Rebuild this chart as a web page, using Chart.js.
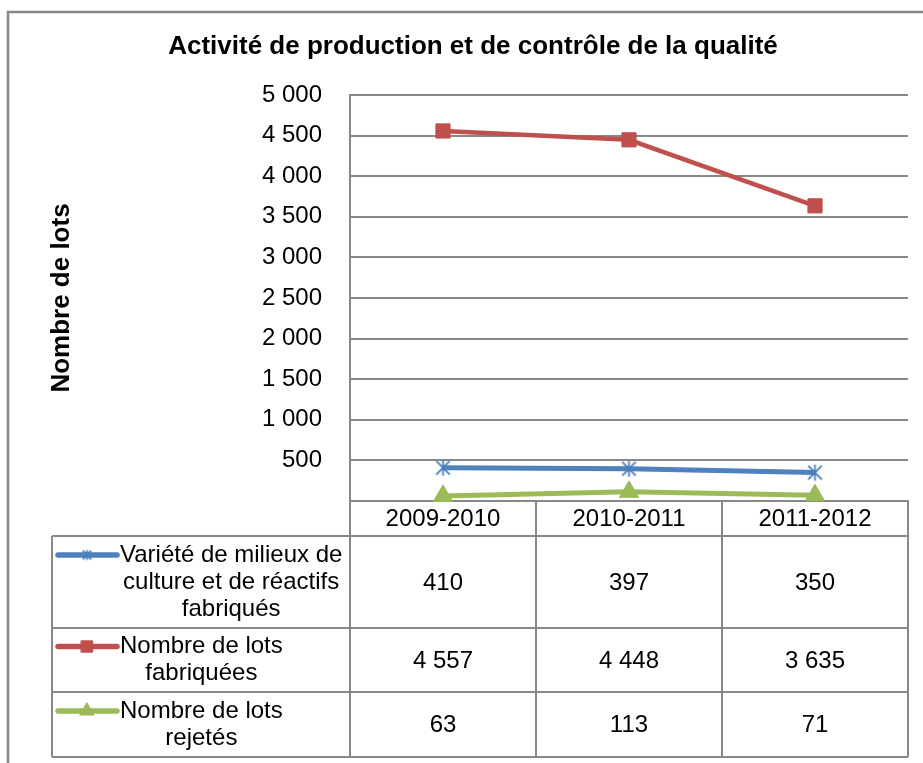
<!DOCTYPE html>
<html>
<head>
    <meta charset='utf-8'>
    <title>Activité de production et de contrôle de la qualité</title>
    <script src="https://cdn.jsdelivr.net/npm/chart.js@4.4.0/dist/chart.umd.min.js"></script>
    <style>
        body { margin: 0; background: #fff; }
    </style>
</head>
<body>
    <canvas id="chart" width="923" height="763"></canvas>
    <script>
        var categories = ['2009-2010', '2010-2011', '2011-2012'];
        var varietes = [410, 397, 350];
        var lotsFabriques = [4557, 4448, 3635];
        var lotsRejetes = [63, 113, 71];
        var seriesNames = [
            ['Variété de milieux de', 'culture et de réactifs', 'fabriqués'],
            ['Nombre de lots', 'fabriquées'],
            ['Nombre de lots', 'rejetés']
        ];
        var chartTitle = 'Activité de production et de contrôle de la qualité';
        var yTitle = 'Nombre de lots';

        var FONT = "'Liberation Sans', Arial, sans-serif";
        var GRID = '#888888';

        // french thousands separator
        function fmt(v) {
            return String(v).replace(/\B(?=(\d{3})+(?!\d))/g, ' ');
        }

        // excel-like asterisk marker (X + vertical bar)
        function asterisk(color, size) {
            var c = document.createElement('canvas');
            c.width = size; c.height = size;
            var g = c.getContext('2d');
            g.strokeStyle = color;
            g.lineWidth = 1.8;
            var m = size / 2, r = size / 2 - 1.5;
            g.beginPath();
            g.moveTo(m - r * 0.85, m - r * 0.85); g.lineTo(m + r * 0.85, m + r * 0.85);
            g.moveTo(m + r * 0.85, m - r * 0.85); g.lineTo(m - r * 0.85, m + r * 0.85);
            g.moveTo(m, m - r); g.lineTo(m, m + r);
            g.stroke();
            return c;
        }
        var starBig = asterisk('#4a7ebb', 19);
        var starSmall = asterisk('#4a7ebb', 13);

        // table rows: top of header, then bottom of each row
        var tableLeft = 52;
        var rowEdges = [501, 536, 628, 692, 757];

        var tablePlugin = {
            id: 'dataTable',
            afterDraw: function (chart) {
                var ctx = chart.ctx;
                var xs = chart.scales.x;
                var area = chart.chartArea;
                var step = (area.right - area.left) / categories.length;
                ctx.save();

                // outer frame
                ctx.strokeStyle = '#878787';
                ctx.lineWidth = 2.5;
                ctx.strokeRect(8, 12, 960, 800);

                // title
                ctx.fillStyle = '#000';
                ctx.font = 'bold 26px ' + FONT;
                ctx.textAlign = 'center';
                ctx.textBaseline = 'middle';
                ctx.fillText(chartTitle, 473, 47);

                // grid of the table
                ctx.strokeStyle = GRID;
                ctx.lineWidth = 2;
                ctx.beginPath();
                for (var i = 0; i <= categories.length; i++) {
                    var bx = area.left + i * step;
                    ctx.moveTo(bx, rowEdges[0]);
                    ctx.lineTo(bx, rowEdges[rowEdges.length - 1]);
                }
                for (var r = 1; r < rowEdges.length; r++) {
                    ctx.moveTo(tableLeft, rowEdges[r]);
                    ctx.lineTo(area.right, rowEdges[r]);
                }
                ctx.moveTo(tableLeft, rowEdges[1]);
                ctx.lineTo(tableLeft, rowEdges[rowEdges.length - 1]);
                ctx.stroke();

                // header
                ctx.font = '24px ' + FONT;
                ctx.fillStyle = '#000';
                categories.forEach(function (c, i) {
                    ctx.fillText(c, xs.getPixelForValue(i), (rowEdges[0] + rowEdges[1]) / 2 + 1);
                });

                // rows
                chart.data.datasets.forEach(function (ds, k) {
                    var top = rowEdges[k + 1], bot = rowEdges[k + 2];
                    var cy = (top + bot) / 2;
                    var lines = seriesNames[k];
                    var lh = 27;
                    var y0 = cy - (lines.length - 1) * lh / 2;
                    ctx.font = '24px ' + FONT;
                    var w = 0;
                    lines.forEach(function (t) { w = Math.max(w, ctx.measureText(t).width); });
                    ctx.fillStyle = '#000';
                    ctx.textAlign = 'center';
                    lines.forEach(function (t, j) {
                        ctx.fillText(t, 120 + w / 2, y0 + j * lh);
                    });
                    ds.data.forEach(function (v, i) {
                        ctx.fillText(fmt(v), xs.getPixelForValue(i), cy + 1);
                    });

                    // legend key
                    ctx.strokeStyle = ds.borderColor;
                    ctx.lineWidth = 5.5;
                    ctx.lineCap = 'round';
                    ctx.beginPath();
                    ctx.moveTo(58, y0);
                    ctx.lineTo(117, y0);
                    ctx.stroke();
                    ctx.fillStyle = ds.pointBackgroundColor;
                    ctx.strokeStyle = ds.pointBorderColor;
                    ctx.lineWidth = 1;
                    var ps = k === 0 ? starSmall : ds.pointStyle;
                    Chart.helpers.drawPoint(ctx, { pointStyle: ps, radius: k === 0 ? 6 : 8, rotation: 0, borderWidth: 1 }, 87, y0);
                });
                ctx.restore();
            }
        };

        var ctx = document.getElementById('chart').getContext('2d');
        var chart = new Chart(ctx, {
            type: 'line',
            data: {
                labels: categories,
                datasets: [
                    {
                        label: seriesNames[0].join(' '),
                        data: varietes,
                        borderColor: '#4f81bd',
                        borderWidth: 5,
                        pointStyle: starBig,
                        pointRadius: 9,
                        pointBackgroundColor: '#4a7ebb',
                        pointBorderColor: '#4a7ebb',
                        tension: 0
                    },
                    {
                        label: seriesNames[1].join(' '),
                        data: lotsFabriques,
                        borderColor: '#c0504d',
                        borderWidth: 4.5,
                        pointStyle: 'rect',
                        pointRadius: 10,
                        pointBackgroundColor: '#c0504d',
                        pointBorderColor: '#be4b48',
                        pointBorderWidth: 1,
                        tension: 0
                    },
                    {
                        label: seriesNames[2].join(' '),
                        data: lotsRejetes,
                        borderColor: '#9bbb59',
                        borderWidth: 5,
                        pointStyle: 'triangle',
                        pointRadius: 11,
                        pointBackgroundColor: '#9bbb59',
                        pointBorderColor: '#98b954',
                        pointBorderWidth: 1,
                        tension: 0
                    }
                ]
            },
            options: {
                responsive: false,
                animation: false,
                clip: false,
                layout: { padding: { left: 0, top: 95, right: 15, bottom: 262 } },
                plugins: {
                    legend: { display: false },
                    title: { display: false },
                    tooltip: { enabled: false }
                },
                scales: {
                    x: {
                        offset: true,
                        ticks: { display: false },
                        grid: { drawOnChartArea: false, drawTicks: false },
                        border: { color: GRID, width: 2 },
                        afterFit: function (s) { s.height = 0; }
                    },
                    y: {
                        min: 0,
                        max: 5000,
                        ticks: {
                            stepSize: 500,
                            padding: 28,
                            color: '#000',
                            font: { family: FONT, size: 24 },
                            callback: function (v) { return v === 0 ? '' : fmt(v); }
                        },
                        grid: { color: GRID, lineWidth: 2, drawTicks: false },
                        border: { color: GRID, width: 2 },
                        title: {
                            display: true,
                            text: yTitle,
                            color: '#000',
                            font: { family: FONT, size: 26, weight: 'bold' },
                            padding: { top: 46, bottom: 0 }
                        },
                        afterFit: function (s) { s.width = 350; }
                    }
                }
            },
            plugins: [tablePlugin]
        });
    </script>
</body>
</html>
